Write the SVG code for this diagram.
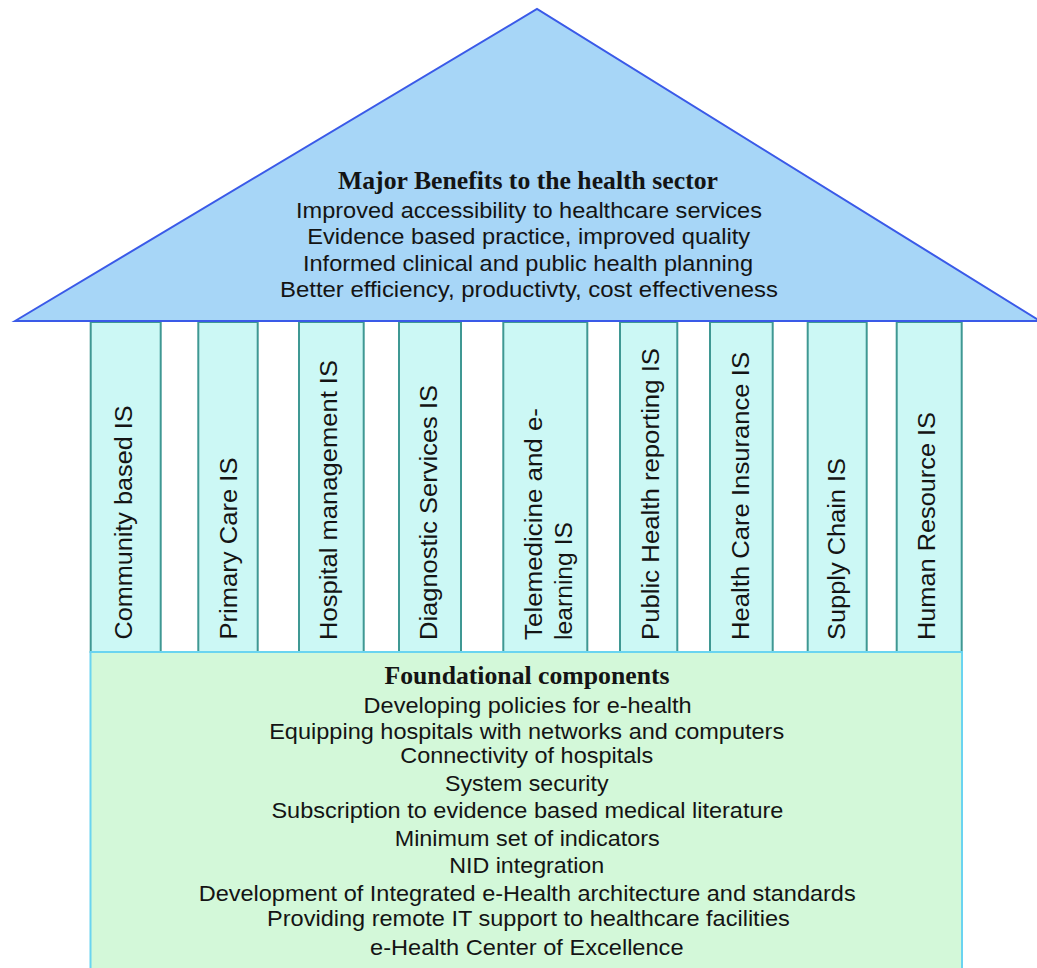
<svg xmlns="http://www.w3.org/2000/svg" width="1037" height="968" viewBox="0 0 1037 968">
<style>
.pillar{fill:#ccf8f5;stroke:#3f9893;stroke-width:2}
.roof{fill:#a7d6f7;stroke:#3a5ae8;stroke-width:2;stroke-linejoin:miter}
.found{fill:#d3f8d9;stroke:#6ad4f0;stroke-width:2}
.t{font-family:"Liberation Sans",Arial,sans-serif;font-size:22px;fill:#141414;text-anchor:middle}
.h{font-family:"Liberation Serif","Times New Roman",serif;font-size:25px;font-weight:bold;fill:#141414;text-anchor:middle}
.v{font-family:"Liberation Sans",Arial,sans-serif;font-size:23px;fill:#141414;text-anchor:start}
</style>
<rect width="1037" height="968" fill="#ffffff"/>
<g id="pillar-1"><rect class="pillar" x="90.7" y="322" width="70" height="330"/><text class="v" transform="translate(131.8,639.5) rotate(-90)" textLength="234" lengthAdjust="spacingAndGlyphs">Community based IS</text></g>
<g id="pillar-2"><rect class="pillar" x="198.3" y="322" width="59.4" height="330"/><text class="v" transform="translate(236.8,639.5) rotate(-90)" textLength="182" lengthAdjust="spacingAndGlyphs">Primary Care IS</text></g>
<g id="pillar-3"><rect class="pillar" x="299" y="322" width="64.7" height="330"/><text class="v" transform="translate(336.8,640) rotate(-90)" textLength="280" lengthAdjust="spacingAndGlyphs">Hospital management IS</text></g>
<g id="pillar-4"><rect class="pillar" x="399" y="322" width="62" height="330"/><text class="v" transform="translate(436.8,640) rotate(-90)" textLength="255" lengthAdjust="spacingAndGlyphs">Diagnostic Services IS</text></g>
<g id="pillar-5"><rect class="pillar" x="503.3" y="322" width="84" height="330"/><text class="v" transform="translate(541.8,640) rotate(-90)" textLength="232" lengthAdjust="spacingAndGlyphs">Telemedicine and e-</text><text class="v" transform="translate(571.8,640) rotate(-90)" textLength="118" lengthAdjust="spacingAndGlyphs">learning IS</text></g>
<g id="pillar-6"><rect class="pillar" x="620" y="322" width="57.3" height="330"/><text class="v" transform="translate(658.5,640) rotate(-90)" textLength="292" lengthAdjust="spacingAndGlyphs">Public Health reporting IS</text></g>
<g id="pillar-7"><rect class="pillar" x="710" y="322" width="62.7" height="330"/><text class="v" transform="translate(748.5,640) rotate(-90)" textLength="288" lengthAdjust="spacingAndGlyphs">Health Care Insurance IS</text></g>
<g id="pillar-8"><rect class="pillar" x="807.7" y="322" width="59" height="330"/><text class="v" transform="translate(845,640) rotate(-90)" textLength="182" lengthAdjust="spacingAndGlyphs">Supply Chain IS</text></g>
<g id="pillar-9"><rect class="pillar" x="896.7" y="322" width="65" height="330"/><text class="v" transform="translate(935,640) rotate(-90)" textLength="228" lengthAdjust="spacingAndGlyphs">Human Resource IS</text></g>
<g id="foundation">
<rect class="found" x="90.5" y="652" width="871.5" height="330"/>
<text class="h" x="527" y="684" textLength="285" lengthAdjust="spacingAndGlyphs">Foundational components</text>
<text class="t" x="527.6" y="712.7" textLength="328" lengthAdjust="spacingAndGlyphs">Developing policies for e-health</text>
<text class="t" x="526.7" y="739" textLength="515" lengthAdjust="spacingAndGlyphs">Equipping hospitals with networks and computers</text>
<text class="t" x="526.7" y="762.7" textLength="253" lengthAdjust="spacingAndGlyphs">Connectivity of hospitals</text>
<text class="t" x="526.8" y="790.7" textLength="163.5" lengthAdjust="spacingAndGlyphs">System security</text>
<text class="t" x="527.4" y="818.3" textLength="512" lengthAdjust="spacingAndGlyphs">Subscription to evidence based medical literature</text>
<text class="t" x="527.2" y="845.7" textLength="265" lengthAdjust="spacingAndGlyphs">Minimum set of indicators</text>
<text class="t" x="526.7" y="872.7" textLength="155" lengthAdjust="spacingAndGlyphs">NID integration</text>
<text class="t" x="527.2" y="900.7" textLength="657" lengthAdjust="spacingAndGlyphs">Development of Integrated e-Health architecture and standards</text>
<text class="t" x="528.4" y="926" textLength="522.7" lengthAdjust="spacingAndGlyphs">Providing remote IT support to healthcare facilities</text>
<text class="t" x="526.8" y="955" textLength="313.5" lengthAdjust="spacingAndGlyphs">e-Health Center of Excellence</text>
</g>
<g id="roof">
<polygon class="roof" points="15,321 537,9 1040,321"/>
<text class="h" x="528" y="189" textLength="380" lengthAdjust="spacingAndGlyphs">Major Benefits to the health sector</text>
<text class="t" x="529" y="218" textLength="466" lengthAdjust="spacingAndGlyphs">Improved accessibility to healthcare services</text>
<text class="t" x="528.7" y="244" textLength="443" lengthAdjust="spacingAndGlyphs">Evidence based practice, improved quality</text>
<text class="t" x="528" y="270.5" textLength="450" lengthAdjust="spacingAndGlyphs">Informed clinical and public health planning</text>
<text class="t" x="529" y="297" textLength="498" lengthAdjust="spacingAndGlyphs">Better efficiency, productivty, cost effectiveness</text>
</g>
</svg>
